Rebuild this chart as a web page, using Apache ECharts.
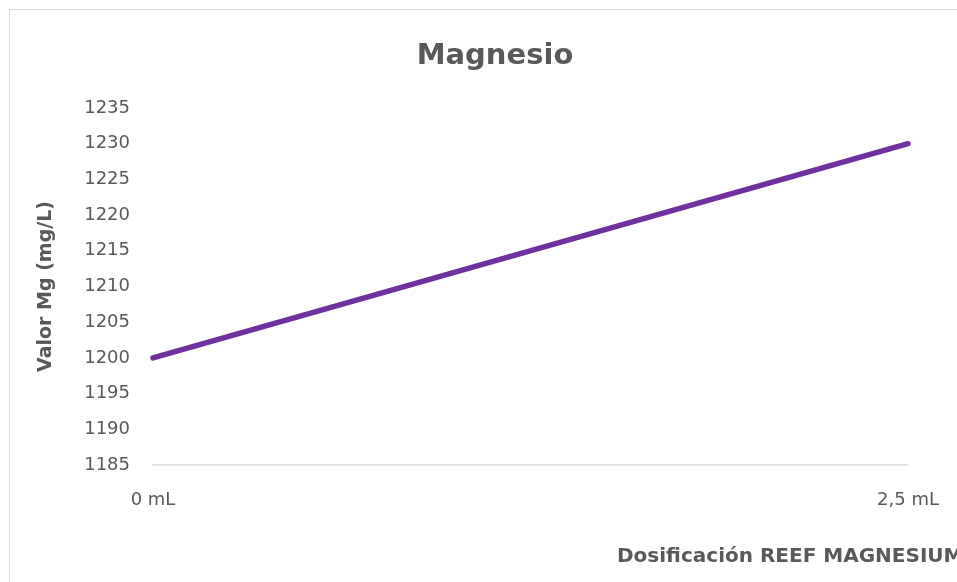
<!DOCTYPE html>
<html>
<head>
<meta charset="utf-8">
<script src="https://cdn.jsdelivr.net/npm/echarts@6/dist/echarts.min.js"></script>
<style>html,body{margin:0;padding:0;background:#fff;}#c{width:957px;height:582px;}</style>
</head>
<body>
<div id="c"></div>
<script>
const categories = ["0 mL", "2,5 mL"];
const mgValues = [1200, 1230];
const yMin = 1185, yMax = 1235, yStep = 5;
const titleText = "Magnesio";
const yName = "Valor Mg (mg/L)";
const xName = "Dosificación REEF MAGNESIUM";

const chart = echarts.init(document.getElementById('c'), null, {renderer: 'canvas'});
const grey = '#595959';
const font = 'DejaVu Sans';
chart.setOption({
  animation: false,
  textStyle: {fontFamily: font},
  title: [
    {text: titleText, left: 490, textAlign: 'center', top: 37,
     textStyle: {fontSize: 29, fontWeight: 'bold', color: grey, fontFamily: font}},
    {text: xName, left: 612, top: 542,
     textStyle: {fontSize: 20, fontWeight: 'bold', color: grey, fontFamily: font}}
  ],
  graphic: [{type: 'rect', shape: {x: 9.5, y: 9.5, width: 1000, height: 1000},
             style: {fill: 'none', stroke: '#d9d9d9', lineWidth: 1}, silent: true, z: -1}],
  grid: {left: 153, right: 49, top: 108, bottom: 117, containLabel: false},
  xAxis: {
    type: 'category', data: categories, boundaryGap: false,
    axisLine: {lineStyle: {color: '#d9d9d9', width: 1.5}},
    axisTick: {show: false},
    axisLabel: {color: grey, fontSize: 18, margin: 26, fontFamily: font},
    splitLine: {show: false}
  },
  yAxis: {
    type: 'value', min: yMin, max: yMax, interval: yStep,
    name: yName, nameLocation: 'middle', nameGap: 97, nameRotate: 90,
    nameTextStyle: {fontSize: 19, fontWeight: 'bold', color: grey, fontFamily: font},
    axisLine: {show: false}, axisTick: {show: false},
    axisLabel: {color: grey, fontSize: 18, margin: 23, fontFamily: font,
                formatter: v => String(v)},
    splitLine: {show: false}
  },
  series: [{
    type: 'line', data: mgValues, symbol: 'none',
    lineStyle: {color: '#7030A0', width: 5.5, cap: 'round'}
  }]
});
</script>
</body>
</html>
